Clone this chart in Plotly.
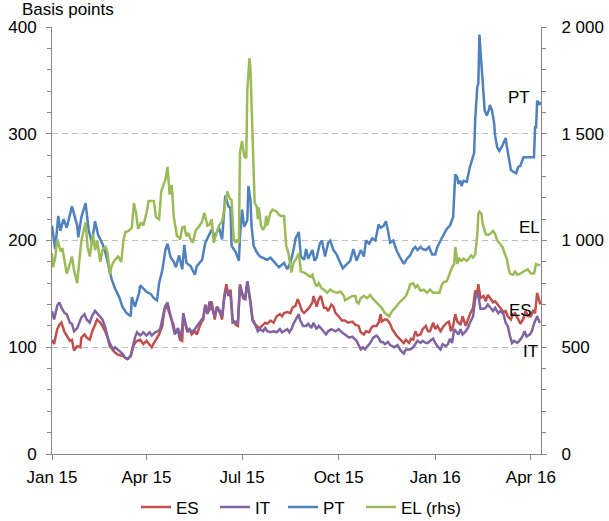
import pandas as pd
import plotly.graph_objects as go

START = pd.Timestamp("2015-01-01")

# ---- data (day offsets from 1 Jan 2015) ----
pt_days = [0,3,6,8,11,14,19,24,25,28,
           32,35,38,41,44,48,51,54,57,60,
           64,67,71,75,76,79,83,84,87,90,
           94,97,100,102,105,108,110,113,116,118,
           121,124,126,128,132,136,138,143,146,149,
           152,155,159,162,165,168,170,171,175,178,
           179,181,183,186,187,189,190,192,195,198,
           205,208,213,216,221,224,227,230,232,235,
           237,240,242,244,248,250,252,255,257,260,
           263,265,268,271,275,277,281,284,287,290,
           294,297,299,302,305,308,311,313,316,318,
           320,322,325,328,331,335,338,341,344,346,
           348,351,353,356,359,362,365,367,370,373,
           376,379,382,384,386,387,389,390,392,395,
           397,398,402,403,405,406,407,409,410,412,
           414,416,417,419,421,422,424,426,429,432,
           433,435,437,440,442,444,446,449,452,456,
           459,460,461,462,464,465]
pt_vals = [214,192,223,209,220,212,232,214,203,222,
           235,209,198,218,205,197,188,176,163,155,
           147,138,132,129,147,138,151,158,155,152,
           150,146,144,160,172,191,197,184,180,175,
           186,173,196,179,176,168,176,182,198,204,
           210,204,212,201,242,232,230,195,189,181,
           204,229,213,219,251,238,214,195,189,185,
           182,184,179,175,179,173,179,191,202,208,
           185,182,192,183,191,181,184,197,200,185,
           198,200,191,187,178,174,178,181,192,181,
           191,185,200,197,202,200,215,212,214,218,
           209,198,200,191,185,178,183,186,192,194,
           191,194,192,191,194,187,187,194,200,205,
           211,214,222,262,259,253,256,251,256,255,
           266,269,282,313,344,347,393,366,350,322,
           317,322,327,322,310,298,287,284,289,296,
           289,275,266,264,263,269,270,278,278,278,
           278,306,306,331,327,330]

el_days = [0,1,3,5,8,10,13,14,17,19,
           21,24,26,28,32,34,36,39,41,43,
           46,48,51,53,55,57,60,63,66,68,
           70,73,76,78,80,82,85,87,90,92,
           94,97,99,102,104,106,108,110,112,114,
           116,119,121,122,124,126,128,130,132,134,
           137,140,143,145,148,150,152,154,157,159,
           162,164,167,169,171,173,175,176,178,179,
           181,183,185,186,188,189,191,193,195,196,
           197,199,201,203,204,205,208,210,214,216,
           218,221,223,225,228,230,232,235,237,240,
           243,246,248,250,252,254,257,259,262,265,
           268,271,275,278,279,283,286,289,290,292,
           294,297,300,303,305,308,311,314,317,321,
           324,327,330,333,337,340,341,344,346,348,
           351,354,357,360,363,367,369,371,373,376,
           379,381,383,384,385,386,388,390,392,395,
           397,399,401,403,405,406,407,409,410,413,
           415,417,420,422,424,426,429,431,433,435,
           436,439,441,443,446,449,451,453,456,459,
           461,463,465]
el_vals = [940,875,915,1005,955,960,875,845,890,925,
           860,800,905,1000,1085,965,925,1030,955,1000,
           900,955,970,940,840,885,910,925,900,1000,
           1040,1045,1060,1175,1130,1055,1085,1070,1130,1185,
           1185,1185,1110,1100,1230,1260,1285,1345,1215,1260,
           1110,1020,1015,1005,1060,1065,1020,1035,1005,990,
           1050,1065,1090,1130,1070,1075,1100,990,1035,1070,
           1090,1145,1230,1200,1190,1005,990,1005,990,1410,
           1465,1395,1385,1705,1855,1800,1475,1175,1160,1100,
           1155,1070,1050,1070,1115,1070,1130,1145,1135,1120,
           1115,1115,975,945,850,895,910,940,855,850,
           840,830,840,805,785,800,775,770,755,770,
           760,755,760,740,720,730,740,740,715,705,
           730,740,730,745,730,715,700,685,660,645,
           670,685,705,720,740,775,795,800,780,790,
           765,770,755,770,755,755,755,790,805,810,
           850,875,890,970,940,890,915,905,915,905,
           915,930,920,935,1025,1125,1135,1125,1080,1030,
           1025,1030,1045,1030,1000,990,970,940,915,865,
           845,840,855,840,845,855,860,865,845,845,
           890,885,885]

es_days = [0,2,5,7,9,12,14,17,19,21,
           24,27,28,31,33,36,38,41,43,46,
           48,51,53,55,58,60,63,67,70,72,
           75,77,79,81,84,87,90,93,95,97,
           100,102,105,107,109,112,114,116,117,120,
           122,124,125,127,129,131,133,136,138,140,
           142,144,146,148,150,152,155,157,160,162,
           164,166,168,170,172,175,177,179,182,184,
           186,189,191,194,196,198,201,203,205,208,
           211,214,217,219,221,224,227,229,232,234,
           236,238,240,243,245,248,249,252,254,256,
           259,261,263,266,268,270,273,276,279,282,
           286,289,292,294,297,299,302,304,306,309,
           311,313,314,317,319,322,324,326,328,332,
           335,337,340,342,344,346,348,351,353,356,
           358,360,363,365,367,370,373,376,378,380,
           382,384,386,389,391,394,396,398,401,403,
           405,406,408,411,413,415,418,420,422,425,
           427,430,432,434,437,439,441,444,446,449,
           451,453,456,458,460,462,464,465]
es_vals = [107,103,117,121,123,114,111,106,107,97,
           101,100,109,112,109,107,114,121,126,123,
           120,114,109,101,97,95,93,92,90,89,
           92,100,104,106,107,103,106,103,100,104,
           109,112,120,135,140,132,127,120,114,115,
           107,106,129,120,114,117,112,115,112,118,
           123,126,140,132,135,143,126,138,132,126,
           148,159,148,154,126,121,120,159,146,145,
           162,142,126,121,119,118,121,123,122,125,
           123,129,131,129,132,133,132,137,139,145,
           140,134,132,135,137,142,148,138,145,148,
           137,137,134,140,138,132,129,125,125,123,
           124,121,120,114,112,115,114,118,120,120,
           123,131,124,126,126,122,117,114,111,107,
           104,107,104,108,107,115,111,112,117,120,
           115,115,123,117,120,115,120,123,124,115,
           120,131,124,121,129,120,126,131,137,153,
           151,159,146,148,143,149,145,142,143,139,
           136,133,134,129,126,131,132,126,122,127,
           134,129,129,134,132,151,144,140]

it_days = [0,2,5,7,9,12,14,17,19,21,
           24,26,28,31,33,36,38,41,43,46,
           48,51,53,55,58,60,63,67,70,72,
           75,77,79,81,84,87,90,93,95,98,
           101,103,106,108,110,113,115,117,120,122,
           124,125,127,129,131,133,136,138,140,142,
           144,146,148,150,152,155,157,160,162,164,
           166,168,170,172,175,177,179,182,184,186,
           189,191,194,196,198,201,203,205,208,211,
           214,217,219,221,224,226,228,230,232,235,
           236,239,242,244,247,249,252,254,256,259,
           261,263,266,270,273,276,279,283,286,288,
           290,294,296,298,301,303,306,309,311,313,
           315,317,320,322,326,329,332,335,337,341,
           344,346,348,351,353,356,358,360,363,365,
           367,370,372,375,377,379,381,383,385,387,
           389,391,394,396,398,401,403,405,406,408,
           411,413,415,418,420,422,425,427,430,432,
           434,436,438,440,443,445,448,450,452,455,
           457,459,462,464,465]
it_vals = [134,126,139,142,137,132,131,123,122,115,
           118,123,128,131,126,123,129,134,132,129,
           126,118,109,104,98,100,97,94,90,89,
           92,101,109,114,111,114,111,114,111,114,
           115,117,129,139,142,130,122,112,118,109,
           118,132,123,115,117,114,117,120,123,126,
           128,139,131,143,138,129,138,134,129,146,
           154,151,150,123,124,123,157,148,145,162,
           142,125,120,115,117,115,118,115,114,115,
           114,117,114,115,117,114,117,122,126,131,
           126,120,120,122,118,123,117,120,118,114,
           112,115,117,115,117,114,112,109,110,108,
           106,98,100,98,101,104,109,111,109,105,
           105,103,105,102,100,102,97,94,98,98,
           100,103,106,104,106,104,104,106,108,104,
           101,98,103,101,103,108,104,117,114,112,
           117,112,115,118,123,129,145,151,148,136,
           136,137,140,136,134,137,132,134,131,123,
           120,111,104,106,104,106,110,115,110,112,
           115,122,129,124,123]

series_names = ["ES", "IT", "PT", "EL (rhs)"]
series_colors = ["#C0504D", "#8064A2", "#4F81BD", "#9BBB59"]

x_ticks_fmt = "%b %y"


def to_dates(days):
    return [START + pd.Timedelta(days=d) for d in days]


for d, v in [(pt_days, pt_vals), (el_days, el_vals), (es_days, es_vals), (it_days, it_vals)]:
    assert len(d) == len(v), (len(d), len(v))

FONT = "Liberation Sans, Arial, sans-serif"
AX = "#868686"
LW = 2.5

fig = go.Figure()
fig.add_trace(go.Scatter(x=to_dates(es_days), y=es_vals, name=series_names[0], mode="lines",
                         legend="legend", line=dict(color=series_colors[0], width=LW)))
fig.add_trace(go.Scatter(x=to_dates(it_days), y=it_vals, name=series_names[1], mode="lines",
                         legend="legend2", line=dict(color=series_colors[1], width=LW)))
fig.add_trace(go.Scatter(x=to_dates(pt_days), y=pt_vals, name=series_names[2], mode="lines",
                         legend="legend3", line=dict(color=series_colors[2], width=LW)))
fig.add_trace(go.Scatter(x=to_dates(el_days), y=el_vals, name=series_names[3], mode="lines",
                         legend="legend4", yaxis="y2",
                         line=dict(color=series_colors[3], width=LW)))

labels = [("PT", "2016-03-21", 334), ("EL", "2016-03-31", 212),
          ("ES", "2016-03-22", 134), ("IT", "2016-04-01", 96)]
for txt, xd, yv in labels:
    fig.add_annotation(x=xd, y=yv, xref="x", yref="y", text=txt, showarrow=False,
                       font=dict(family=FONT, size=17, color="black"))

fig.add_annotation(x=-0.066, y=1.042, xref="paper", yref="paper", text="Basis points",
                   showarrow=False, xanchor="left", yanchor="middle",
                   font=dict(family=FONT, size=17, color="black"))


def leg(xpos):
    return dict(orientation="h", x=xpos, xanchor="left", y=-0.083, yanchor="top",
                font=dict(family=FONT, size=17), itemwidth=30, bgcolor="rgba(0,0,0,0)")


fig.update_layout(
    width=609, height=521,
    margin=dict(l=52, r=68, t=27, b=67, autoexpand=False),
    paper_bgcolor="white", plot_bgcolor="white",
    font=dict(family=FONT, size=17, color="black"),
    separators=". ",
    showlegend=True,
    legend=leg(0.1718), legend2=leg(0.3333), legend3=leg(0.4724), legend4=leg(0.6319),
    xaxis=dict(type="date", range=["2015-01-01", "2016-04-10 16:00"],
               tick0="2015-01-01", dtick="M3", tickformat=x_ticks_fmt,
               ticks="outside", ticklen=5, tickcolor=AX, showline=True, linecolor=AX,
               linewidth=1, showgrid=False, zeroline=False, ticklabelstandoff=3),
    yaxis=dict(range=[0, 400], tick0=0, dtick=100, ticks="outside", ticklen=5, tickcolor=AX,
               showline=True, linecolor=AX, linewidth=1, showgrid=True, gridcolor="#BFBFBF",
               griddash="6px,4px", gridwidth=1, zeroline=False, ticklabelstandoff=6,
               minor=dict(dtick=20, ticks="outside", ticklen=4, tickcolor=AX, showgrid=False)),
    yaxis2=dict(range=[0, 2000], tick0=0, dtick=500, tickformat=",d", overlaying="y",
                side="right", ticks="outside", ticklen=5, tickcolor=AX, showline=True,
                linecolor=AX, linewidth=1, showgrid=False, zeroline=False, ticklabelstandoff=11,
                minor=dict(dtick=100, ticks="outside", ticklen=4, tickcolor=AX, showgrid=False)),
)

fig.write_html("out.html", config={"displayModeBar": False},
               post_script="document.body.style.margin='0';document.body.style.padding='0';")
